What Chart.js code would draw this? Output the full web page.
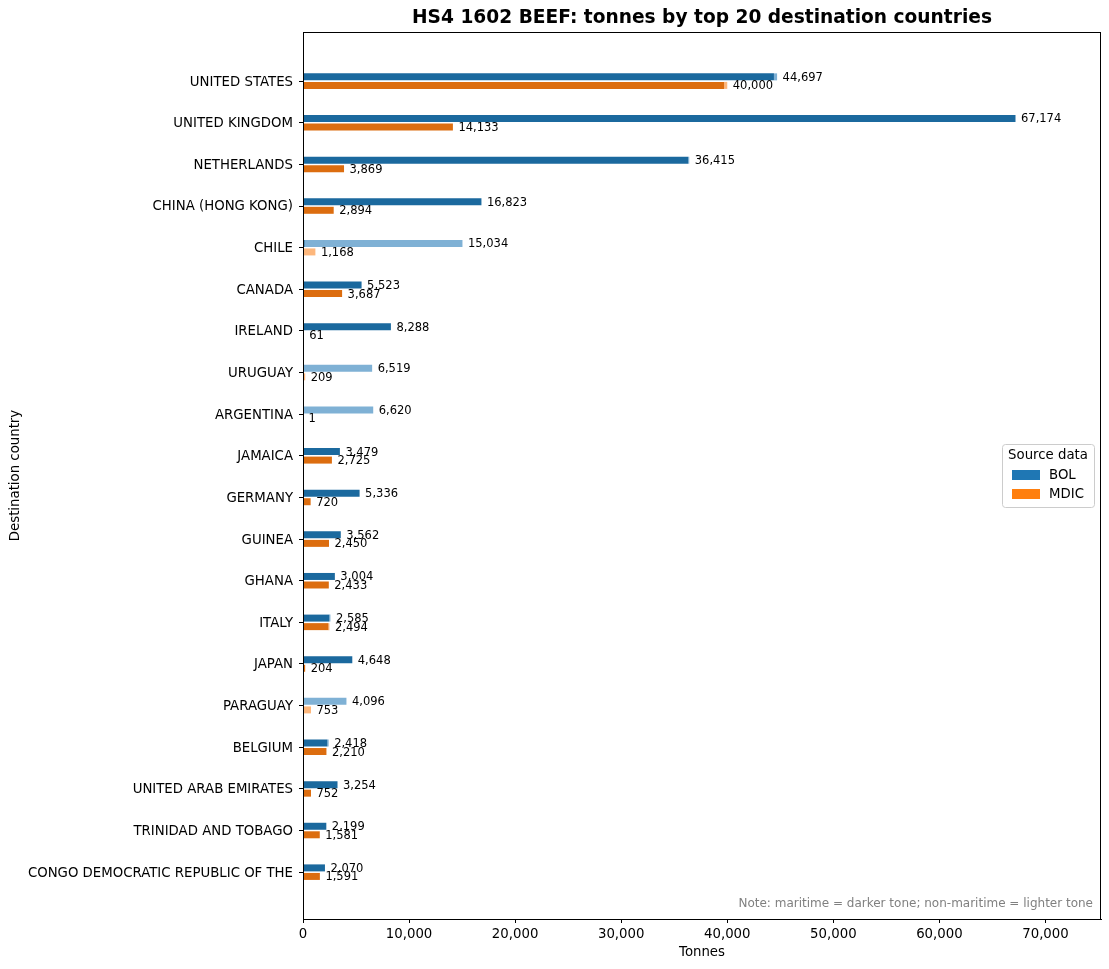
<!DOCTYPE html>
<html>
<head>
<meta charset="utf-8">
<title>HS4 1602 BEEF</title>
<script src="https://cdn.jsdelivr.net/npm/chart.js@4.4.1/dist/chart.umd.min.js"></script>
<style>
  html, body { margin: 0; padding: 0; background: #fff; }
</style>
</head>
<body>
<canvas id="beefChart" width="1109" height="969"></canvas>
<script>
// top 20 destinations (tonnes)
const countries = ['UNITED STATES', 'UNITED KINGDOM', 'NETHERLANDS', 'CHINA (HONG KONG)', 'CHILE',
    'CANADA', 'IRELAND', 'URUGUAY', 'ARGENTINA', 'JAMAICA', 'GERMANY', 'GUINEA', 'GHANA',
    'ITALY', 'JAPAN', 'PARAGUAY', 'BELGIUM', 'UNITED ARAB EMIRATES', 'TRINIDAD AND TOBAGO',
    'CONGO DEMOCRATIC REPUBLIC OF THE'];
// maritime = darker tone, non-maritime = lighter tone
const bolMaritime     = [44400, 67174, 36315, 16823, 160, 5523, 8288, 0, 0, 3479, 5336, 3562, 3004, 2485, 4648, 0, 2300, 3254, 2199, 2070];
const bolNonMaritime  = [297, 0, 100, 0, 14874, 0, 0, 6519, 6620, 0, 0, 0, 0, 100, 0, 4096, 118, 0, 0, 0];
const mdicMaritime    = [39700, 14133, 3869, 2894, 0, 3687, 61, 0, 0, 2725, 720, 2450, 2433, 2400, 204, 0, 2210, 752, 1581, 1591];
const mdicNonMaritime = [300, 0, 0, 0, 1168, 0, 0, 209, 1, 0, 0, 0, 0, 94, 0, 753, 0, 0, 0, 0];
const xTicks = [0, 10000, 20000, 30000, 40000, 50000, 60000, 70000];

const FONT = 'DejaVu Sans';
const bolDark = '#1b699e', bolLight = '#7fb1d5';
const mdicDark = '#dc6d0f', mdicLight = '#fdb77c';

function points(arr) {
    return arr.map(function (v, i) { return {x: v, y: i}; });
}

// box, title, note, value labels and legend drawn on top
const decorPlugin = {
    id: 'decor',
    afterDraw(chart) {
        const ctx = chart.ctx;
        const a = chart.chartArea;
        ctx.save();
        ctx.strokeStyle = '#000';
        ctx.lineWidth = 1;
        ctx.strokeRect(a.left + 0.5, a.top + 0.5, a.right - a.left - 1, a.bottom - a.top);

        // title
        ctx.fillStyle = '#000';
        ctx.font = 'bold 18.6px "' + FONT + '"';
        ctx.textAlign = 'center';
        ctx.textBaseline = 'middle';
        ctx.fillText('HS4 1602 BEEF: tonnes by top 20 destination countries', (a.left + a.right) / 2, 18);

        // value labels at the end of each stacked bar
        ctx.font = '11.5px "' + FONT + '"';
        ctx.textAlign = 'left';
        [[1, bolMaritime, bolNonMaritime], [3, mdicMaritime, mdicNonMaritime]].forEach(function (s) {
            const meta = chart.getDatasetMeta(s[0]);
            meta.data.forEach(function (bar, i) {
                const total = s[1][i] + s[2][i];
                ctx.fillText(total.toLocaleString('en-US'), bar.x + 5.5, bar.y + 1);
            });
        });

        // note
        ctx.fillStyle = '#808080';
        ctx.textAlign = 'right';
        ctx.font = '12px "' + FONT + '"';
        ctx.fillText('Note: maritime = darker tone; non-maritime = lighter tone', a.right - 8, a.bottom - 15);

        // legend
        const lx = 1002, ly = 444, lw = 92, lh = 63;
        ctx.fillStyle = 'rgba(255,255,255,0.8)';
        ctx.strokeStyle = '#cccccc';
        ctx.beginPath();
        ctx.roundRect(lx + 0.5, ly + 0.5, lw, lh, 3);
        ctx.fill();
        ctx.stroke();
        ctx.fillStyle = '#000';
        ctx.textAlign = 'center';
        ctx.font = '13.3px "' + FONT + '"';
        ctx.fillText('Source data', lx + lw / 2, ly + 11.5);
        ctx.textAlign = 'left';
        ctx.fillStyle = '#1f77b4';
        ctx.fillRect(lx + 10, ly + 26, 28, 10);
        ctx.fillStyle = '#ff7f0e';
        ctx.fillRect(lx + 10, ly + 45, 28, 10);
        ctx.fillStyle = '#000';
        ctx.fillText('BOL', lx + 47, ly + 31.5);
        ctx.fillText('MDIC', lx + 47, ly + 50.5);
        ctx.restore();
    }
};

const ctx = document.getElementById('beefChart').getContext('2d');
const beefChart = new Chart(ctx, {
    type: 'bar',
    data: {
        datasets: [
            {label: 'BOL maritime', data: points(bolMaritime), backgroundColor: bolDark, stack: 'BOL'},
            {label: 'BOL non-maritime', data: points(bolNonMaritime), backgroundColor: bolLight, stack: 'BOL'},
            {label: 'MDIC maritime', data: points(mdicMaritime), backgroundColor: mdicDark, stack: 'MDIC'},
            {label: 'MDIC non-maritime', data: points(mdicNonMaritime), backgroundColor: mdicLight, stack: 'MDIC'}
        ]
    },
    options: {
        indexAxis: 'y',
        responsive: false,
        animation: false,
        categoryPercentage: 0.41,
        barPercentage: 0.82,
        inflateAmount: 0,
        layout: {padding: {top: 32, right: 8, bottom: 0, left: 0}},
        plugins: {
            legend: {display: false},
            tooltip: {enabled: false}
        },
        scales: {
            x: {
                type: 'linear',
                stacked: true,
                min: 0,
                max: 75235,
                afterFit: function (scale) { scale.height = 50; },
                afterBuildTicks: function (scale) {
                    scale.ticks = xTicks.map(function (v) { return {value: v}; });
                },
                grid: {drawOnChartArea: false, drawTicks: true, tickLength: 4, color: '#000'},
                border: {display: true, color: '#000'},
                ticks: {
                    color: '#000',
                    padding: 4,
                    maxRotation: 0,
                    font: {family: FONT, size: 13.3},
                    callback: function (v) { return v.toLocaleString('en-US'); }
                },
                title: {display: true, text: 'Tonnes', color: '#000',
                    font: {family: FONT, size: 13.3}, padding: {top: 2, bottom: 8}}
            },
            y: {
                type: 'linear',
                stacked: true,
                reverse: true,
                offset: false,
                min: -1.18,
                max: 20.125,
                afterFit: function (scale) { scale.width = 303; },
                afterBuildTicks: function (scale) {
                    scale.ticks = countries.map(function (c, i) { return {value: i}; });
                },
                grid: {offset: false, drawOnChartArea: false, drawTicks: true, tickLength: 4, color: '#000'},
                border: {display: true, color: '#000'},
                ticks: {
                    color: '#000',
                    padding: 6,
                    autoSkip: false,
                    labelOffset: 1,
                    font: {family: FONT, size: 13.3},
                    callback: function (v) { return countries[v]; }
                },
                title: {display: true, text: 'Destination country', color: '#000',
                    font: {family: FONT, size: 13.3}, padding: {top: 8, bottom: 4}}
            }
        }
    },
    plugins: [decorPlugin]
});
</script>
</body>
</html>
